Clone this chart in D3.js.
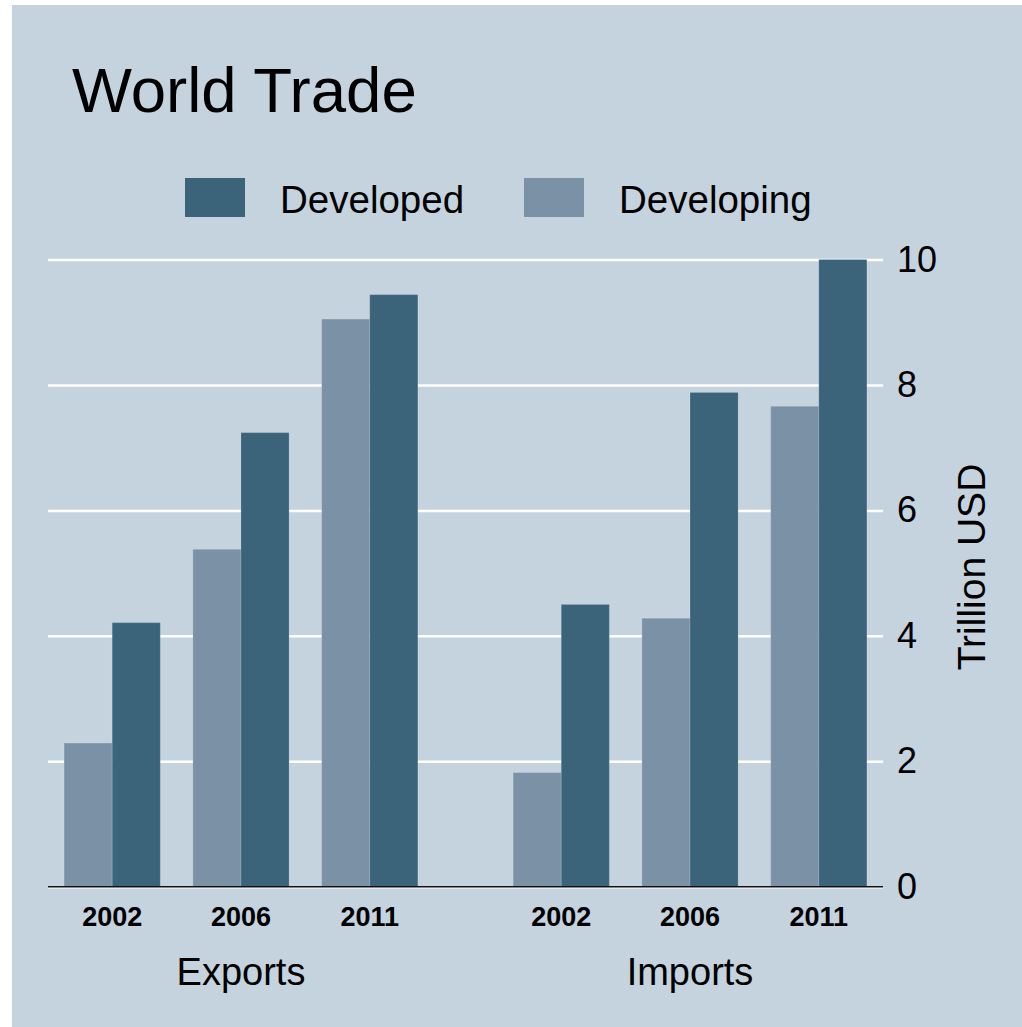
<!DOCTYPE html>
<html>
<head>
<meta charset="utf-8">
<script src="https://cdn.jsdelivr.net/npm/d3@7"></script>
<style>
  body { margin: 0; background: #fff; }
  text { font-family: "Liberation Sans", Arial, sans-serif; fill: #000; }
</style>
</head>
<body>
<svg width="1022" height="1027"></svg>
<script>
// data
let groups = ['Exports', 'Imports'];
let years = ['2002', '2006', '2011'];
let seriesNames = ['Developing', 'Developed'];
let developing = { Exports: [2.29, 5.38, 9.05], Imports: [1.82, 4.28, 7.66] };
let developed = { Exports: [4.21, 7.24, 9.44], Imports: [4.5, 7.88, 10.0] };
let yTicks = [0, 2, 4, 6, 8, 10];

let colors = { Developed: '#3b647a', Developing: '#7a91a6' };

let svg = d3.select('svg');
let width = +svg.attr('width');
let height = +svg.attr('height');

let plot = { l: 48, r: 883, t: 259.5, b: 886.7 };

// panel background
svg.append('rect')
    .attr('x', 12).attr('y', 5)
    .attr('width', width - 12).attr('height', height - 5)
    .attr('fill', '#c5d3df');

// scales
let xGroup = d3.scaleBand()
    .domain(groups)
    .range([plot.l, plot.r])
    .paddingInner(0.1405)
    .paddingOuter(0);

let xYear = d3.scaleBand()
    .domain(years)
    .range([0, xGroup.bandwidth()])
    .paddingInner(0.253)
    .paddingOuter(0.125);

let xSeries = d3.scaleBand()
    .domain(seriesNames)
    .range([0, xYear.bandwidth()]);

let yScale = d3.scaleLinear()
    .domain([0, 10])
    .range([plot.b, plot.t]);

// gridlines + right axis
let yAxis = d3.axisRight(yScale)
    .tickValues(yTicks)
    .tickSize(-(plot.r - plot.l))
    .tickPadding(14)
    .tickFormat(d3.format('d'));

let axisG = svg.append('g')
    .attr('transform', 'translate(' + plot.r + ',0)')
    .call(yAxis);
axisG.select('.domain').remove();
axisG.selectAll('.tick line').attr('stroke', '#ffffff').attr('stroke-width', 2.5);
axisG.selectAll('.tick text')
    .attr('font-size', '36px')
    .attr('fill', '#000');

// bars
let rows = [];
groups.forEach(g => {
    years.forEach((yr, i) => {
        rows.push({ group: g, year: yr, series: 'Developing', value: developing[g][i] });
        rows.push({ group: g, year: yr, series: 'Developed', value: developed[g][i] });
    });
});

svg.append('g').selectAll('rect').data(rows).enter().append('rect')
    .attr('x', d => xGroup(d.group) + xYear(d.year) + xSeries(d.series))
    .attr('y', d => yScale(d.value))
    .attr('width', xSeries.bandwidth())
    .attr('height', d => yScale(0) - yScale(d.value))
    .attr('fill', d => colors[d.series])
    .attr('stroke', '#ffffff')
    .attr('stroke-opacity', 0.15)
    .attr('stroke-width', 1);

// zero line
svg.append('line')
    .attr('x1', plot.l).attr('x2', plot.r)
    .attr('y1', yScale(0)).attr('y2', yScale(0))
    .attr('stroke', '#111').attr('stroke-width', 1.5);

// year labels
let yearLabels = [];
groups.forEach(g => years.forEach(yr => yearLabels.push({ group: g, year: yr })));
svg.append('g').selectAll('text').data(yearLabels).enter().append('text')
    .attr('x', d => xGroup(d.group) + xYear(d.year) + xYear.bandwidth() / 2)
    .attr('y', 926)
    .attr('text-anchor', 'middle')
    .attr('font-size', '27px')
    .attr('font-weight', 'bold')
    .text(d => d.year);

// group labels
svg.append('g').selectAll('text').data(groups).enter().append('text')
    .attr('x', d => xGroup(d) + xGroup.bandwidth() / 2)
    .attr('y', 985)
    .attr('text-anchor', 'middle')
    .attr('font-size', '38px')
    .text(d => d);

// y axis title
svg.append('text')
    .attr('transform', 'translate(985,567) rotate(-90)')
    .attr('text-anchor', 'middle')
    .attr('font-size', '39px')
    .text('Trillion USD');

// title
svg.append('text')
    .attr('x', 72).attr('y', 112)
    .attr('font-size', '63.5px')
    .text('World Trade');

// legend
let legendItems = [
    { name: 'Developed', x: 185 },
    { name: 'Developing', x: 524 }
];
let legend = svg.append('g').selectAll('g').data(legendItems).enter().append('g')
    .attr('transform', d => 'translate(' + d.x + ',178)');
legend.append('rect')
    .attr('width', 60).attr('height', 39)
    .attr('fill', d => colors[d.name]);
legend.append('text')
    .attr('x', 95).attr('y', 35)
    .attr('font-size', '38.5px')
    .text(d => d.name);
</script>
</body>
</html>
